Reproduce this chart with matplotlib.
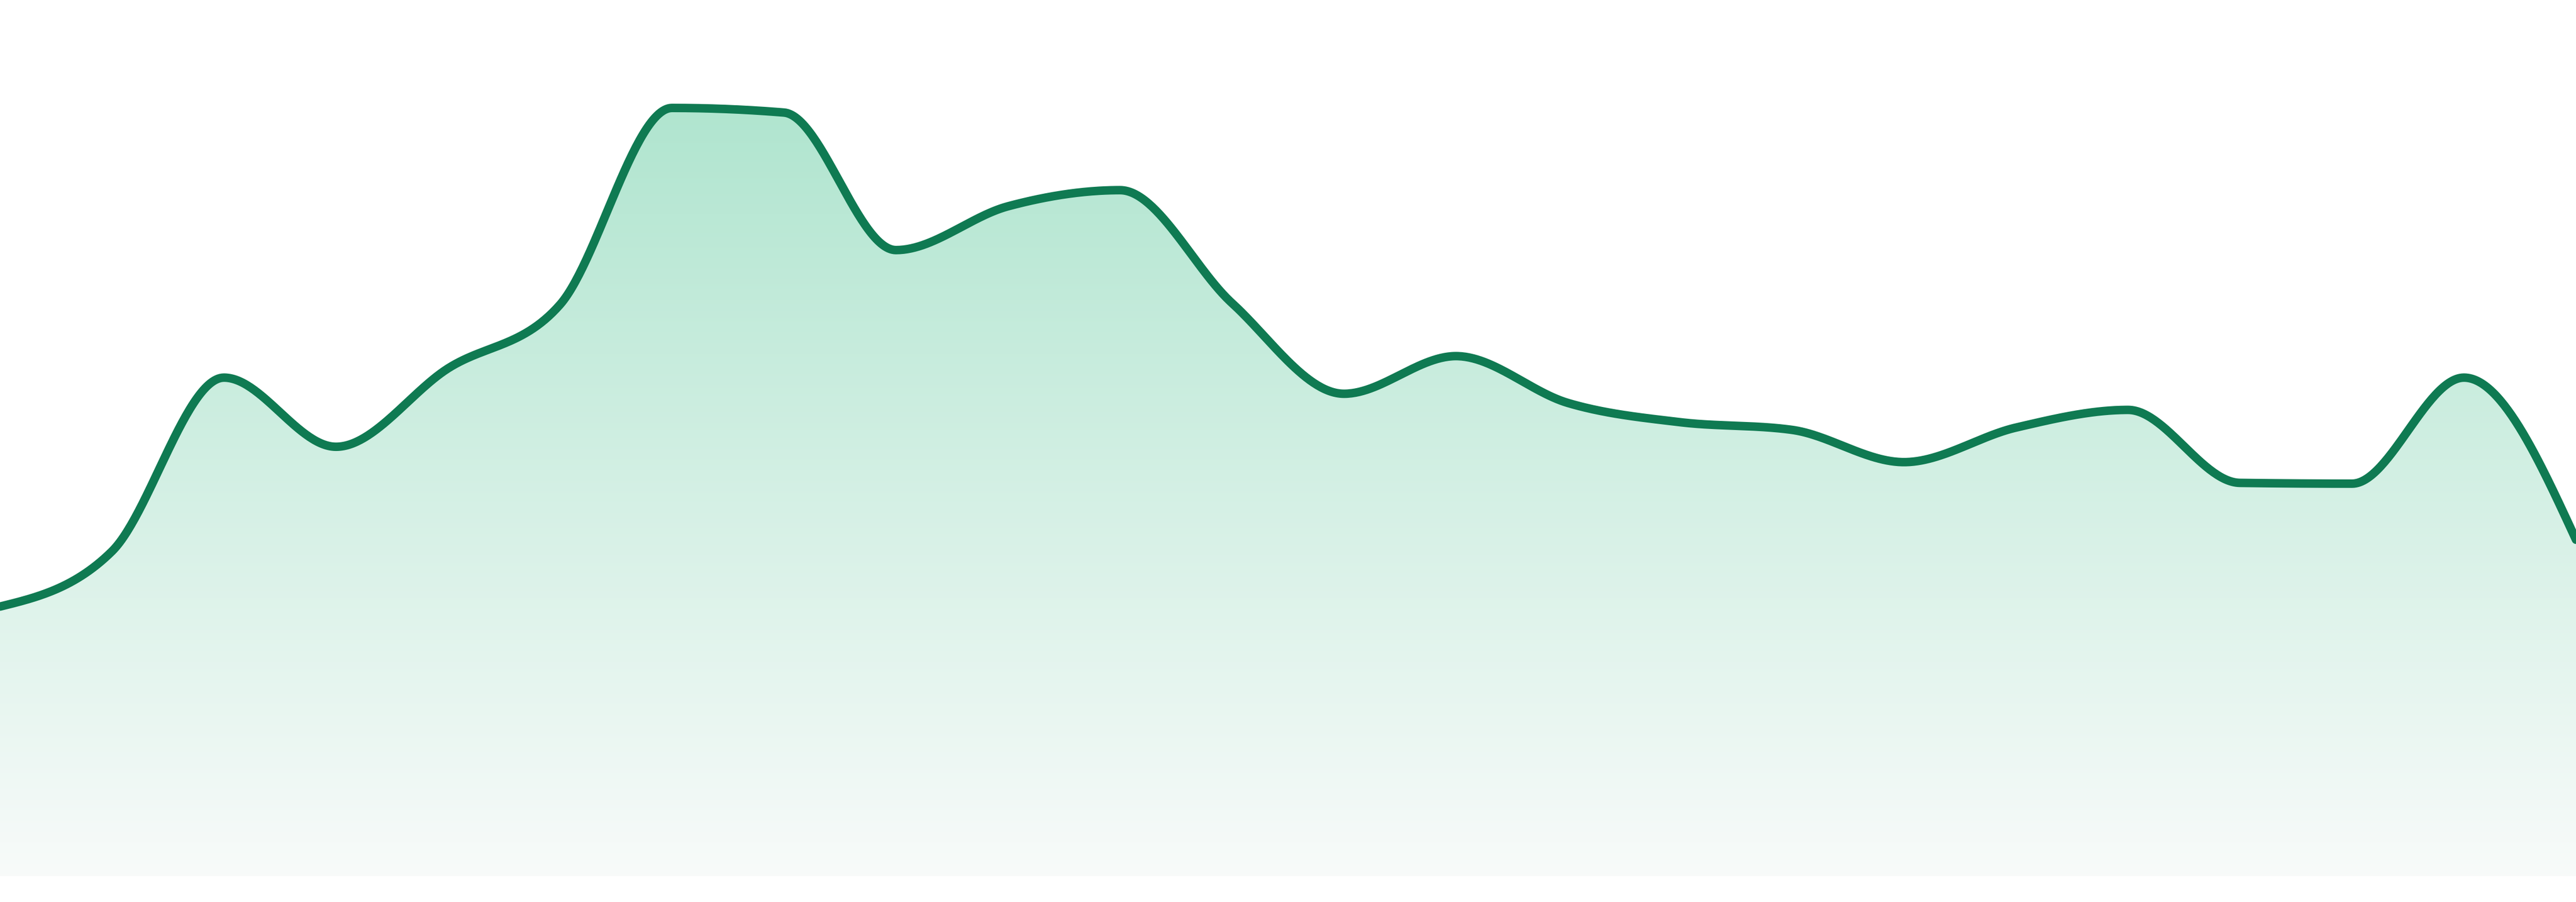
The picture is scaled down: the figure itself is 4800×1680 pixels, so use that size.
import numpy as np
import matplotlib
matplotlib.use("Agg")
import matplotlib.pyplot as plt
from matplotlib.patches import Polygon

# ---- data ----
labels = [f"P{i+1}" for i in range(24)]
values = [35.1, 42.3, 64.9, 55.9, 66.1, 74.4, 100.0, 99.4, 81.5, 87.2, 89.3, 74.6,
          62.8, 67.7, 61.6, 59.1, 58.1, 53.9, 58.4, 60.7, 51.2, 51.1, 64.9, 43.8]

line_color = "#0f7a52"
fill_top = (0.690, 0.898, 0.812)
fill_bottom = (0.973, 0.984, 0.980)


def monotone_x(x, y, n=60):
    """d3 curveMonotoneX interpolation."""
    x = np.asarray(x, float)
    y = np.asarray(y, float)
    m = len(x)
    t = np.zeros(m)
    h = np.diff(x)
    s = np.diff(y) / h
    for i in range(1, m - 1):
        h0, h1 = h[i - 1], h[i]
        s0, s1 = s[i - 1], s[i]
        p = (s0 * h1 + s1 * h0) / (h0 + h1)
        t[i] = (np.sign(s0) + np.sign(s1)) * min(abs(s0), abs(s1), 0.5 * abs(p))
    t[0] = (3 * s[0] - t[1]) / 2
    t[-1] = (3 * s[-1] - t[-2]) / 2
    xs, ys = [], []
    u = np.linspace(0, 1, n)
    for i in range(m - 1):
        dx = (x[i + 1] - x[i]) / 3
        p0 = (x[i], y[i])
        p1 = (x[i] + dx, y[i] + dx * t[i])
        p2 = (x[i + 1] - dx, y[i + 1] - dx * t[i + 1])
        p3 = (x[i + 1], y[i + 1])
        bx = (1 - u) ** 3 * p0[0] + 3 * (1 - u) ** 2 * u * p1[0] + 3 * (1 - u) * u ** 2 * p2[0] + u ** 3 * p3[0]
        by = (1 - u) ** 3 * p0[1] + 3 * (1 - u) ** 2 * u * p1[1] + 3 * (1 - u) * u ** 2 * p2[1] + u ** 3 * p3[1]
        if i > 0:
            bx, by = bx[1:], by[1:]
        xs.append(bx)
        ys.append(by)
    return np.concatenate(xs), np.concatenate(ys)


fig = plt.figure(figsize=(16, 5.6), dpi=300)
ax = fig.add_axes([0, 0, 1, 1])
ax.set_facecolor("white")

xpos = np.arange(len(values))
cx, cy = monotone_x(xpos, values)

ax.set_xlim(0, len(values) - 1)
ymin, ymax = -3.35, 114.05
ax.set_ylim(ymin, ymax)

# gradient fill
top_val = max(values)
grad = np.linspace(0, 1, 512)[:, None]
img = np.zeros((512, 1, 3))
for k in range(3):
    img[:, 0, k] = fill_top[k] * (1 - grad[:, 0]) + fill_bottom[k] * grad[:, 0]
im = ax.imshow(img, extent=[0, len(values) - 1, 0, top_val], aspect="auto",
               origin="upper", zorder=1, interpolation="bilinear")
poly_xy = np.column_stack([np.concatenate([[cx[0]], cx, [cx[-1]]]),
                           np.concatenate([[0], cy, [0]])])
poly = Polygon(poly_xy, closed=True, facecolor="none", edgecolor="none")
ax.add_patch(poly)
im.set_clip_path(poly)

ax.plot(cx, cy, color=line_color, lw=3.8, solid_capstyle="round",
        solid_joinstyle="round", zorder=3)

ax.set_xticks([])
ax.set_yticks([])
for sp in ax.spines.values():
    sp.set_visible(False)

fig.savefig("out.png", dpi=300, facecolor="white")
